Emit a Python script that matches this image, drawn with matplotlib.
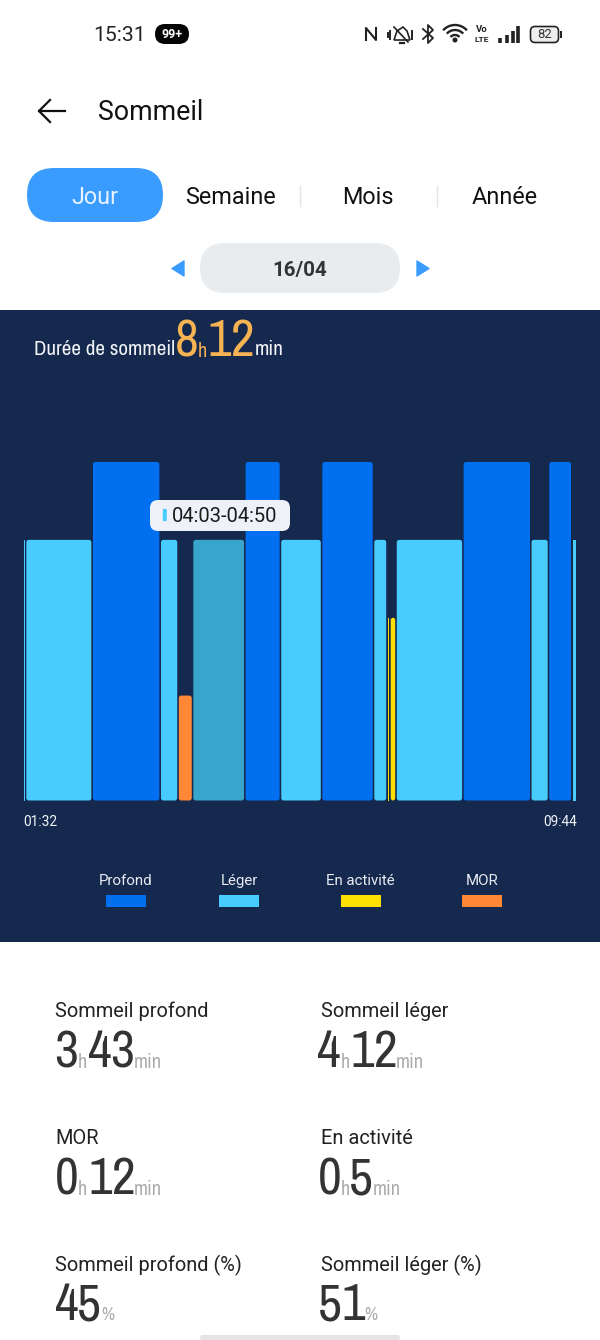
import matplotlib
matplotlib.use("Agg")
import matplotlib.pyplot as plt
from matplotlib.patches import FancyBboxPatch, Rectangle, Polygon, Circle, Arc
from matplotlib import font_manager as fm

W, H = 600, 1340

# ---- data -------------------------------------------------------------
START_LABEL = "01:32"
END_LABEL = "09:44"
TOTAL_MIN = 492
seg_start = [0, 1.8, 61.1, 121.6, 137.5, 150.4, 196.9, 228.6, 265.2, 311.4, 323.4, 326, 331.4, 390.9, 451.3, 467.1, 487.8]
seg_end = [1.8, 61.1, 121.6, 137.5, 150.4, 196.9, 228.6, 265.2, 311.4, 323.4, 326, 331.4, 390.9, 451.3, 467.1, 487.8, 492]
seg_stage = ["Léger", "Léger", "Profond", "Léger", "MOR", "Léger", "Profond", "Léger", "Profond",
             "Léger", "En activité", "En activité", "Léger", "Profond", "Léger", "Profond", "Léger"]
stage_names = ["Profond", "Léger", "En activité", "MOR"]
stage_height = [100, 77, 54, 31]
stage_color = ["#006FF0", "#48CBFF", "#FFE000", "#FF8735"]
selected_segment = 5
selected_color = "#37A5CC"
tabs = ["Jour", "Semaine", "Mois", "Année"]
stat_labels = ["Sommeil profond", "Sommeil léger", "MOR", "En activité", "Sommeil profond (%)", "Sommeil léger (%)"]
stat_a = ["3", "4", "0", "0", "45", "51"]
stat_a_unit = ["h", "h", "h", "h", "%", "%"]
stat_b = ["43", "12", "12", "5", "", ""]
stat_b_unit = ["min", "min", "min", "min", "", ""]

SANS = ["Roboto", "DejaVu Sans"]
cond = sorted({f.name for f in fm.fontManager.ttflist
               if "condensed" in f.name.lower() or "narrow" in f.name.lower()})
HAS_COND = bool(cond)
NARROW = cond[:1] + SANS if HAS_COND else SANS
PX = 72 / 100

fig = plt.figure(figsize=(W / 100, H / 100), dpi=100, facecolor="white")
ui = fig.add_axes([0, 0, 1, 1])
ui.set_xlim(0, W); ui.set_ylim(H, 0); ui.axis("off")


def t(x, y, s, size, color="#111111", ha="left", va="center", family=SANS, ax=ui, **kw):
    dy = 1.6 if size >= 18 else 1.0
    return ax.text(x, y + dy, s, fontsize=size * PX, color=color, ha=ha, va=va, family=family, **kw)


def digits(centers, y, s, size, color, **kw):
    # the tall narrow numerals are placed one by one to keep the reference's tight spacing
    for cx, ch in zip(centers, s):
        t(cx, y, ch, size, color=color, ha="center", **kw)


def rbox(x0, y0, x1, y1, r, color, z=1):
    ui.add_patch(FancyBboxPatch((x0 + r, y0 + r), x1 - x0 - 2 * r, y1 - y0 - 2 * r,
                                boxstyle=f"round,pad={r},rounding_size={r}", fc=color, ec="none", zorder=z))


# ---- status bar ---------------------------------------------------------
INK = "#222222"
t(93, 33.7, "15:31", 21, color=INK)
rbox(155, 24, 189, 44, 10, "#050505")
t(172, 33.5, "99+", 12.5, color="white", ha="center", fontweight="bold")
ui.plot([366, 366, 376, 376], [40, 28, 40, 28], color=INK, lw=1.5)
ui.add_patch(Polygon([[394, 40], [397, 31], [403, 27], [407, 31], [410, 40]], closed=True, fc="none", ec=INK, lw=1.2))
ui.plot([394, 408], [27, 42], color=INK, lw=1.2)
ui.plot([400, 404], [42.5, 42.5], color=INK, lw=1.6)
for x, h0 in ((387.5, 2), (390, 4), (412, 4)):
    ui.plot([x, x], [34.5 - h0, 34.5 + h0], color=INK, lw=1.4)
ui.plot([423, 433, 428, 428, 433, 423], [29, 38, 43, 25, 30, 39], color=INK, lw=1.3)
for r in (6, 11, 16):
    ui.add_patch(Arc((455, 41), 2 * r, 2 * r, theta1=222, theta2=318, color=INK, lw=1.7))
ui.add_patch(Circle((455, 40), 1.8, color=INK))
t(482, 28.5, "Vo", 9.5, ha="center", fontweight="bold", color=INK)
t(482, 38, "LTE", 8.5, ha="center", fontweight="bold", color=INK)
for x, top in zip([500, 506.5, 512.5, 518], [38, 35, 31, 26]):
    ui.plot([x, x], [top, 43], color=INK, lw=2.6, solid_capstyle="butt")
rbox(531, 27, 558, 42, 4, "#EEEEEE")
ui.add_patch(FancyBboxPatch((535, 31), 19, 7, boxstyle="round,pad=4.5,rounding_size=4.5", fc="none", ec=INK, lw=1.2))
ui.add_patch(Rectangle((560, 31), 2, 7, fc=INK, ec="none"))
t(544.5, 33.5, "82", 13, ha="center", color="#333333")

# ---- header -------------------------------------------------------------
ui.plot([65, 39], [111, 111], color="#111111", lw=1.6)
ui.plot([50, 39, 50], [100, 111, 122], color="#111111", lw=1.6)
t(98, 111, "Sommeil", 26.7, color="#111111")

# ---- tabs ---------------------------------------------------------------
rbox(27, 168, 163, 222, 27, "#3B9CFF")
for x, s, c in zip([95, 231, 368, 505], tabs, ["#E6F2FF", "#111111", "#111111", "#111111"]):
    t(x, 195.5, s, 23.4, color=c, ha="center")
for x in (300, 437):
    ui.plot([x, x], [186, 206], color="#E4E4E4", lw=1)

rbox(200, 243, 400, 293, 25, "#E9ECEF")
t(300, 268.8, "16/04", 20.5, color="#333333", ha="center", fontweight="bold")
ui.add_patch(Polygon([[184, 261], [184, 276], [172, 268.5]], closed=True, fc="#3B9CFF", ec="#3B9CFF", lw=1, joinstyle="round"))
ui.add_patch(Polygon([[417, 261], [417, 276], [429, 268.5]], closed=True, fc="#3B9CFF", ec="#3B9CFF", lw=1, joinstyle="round"))

# ---- dark panel ---------------------------------------------------------
ui.add_patch(Rectangle((0, 310), W, 632, fc="#15284E", ec="none", zorder=0))
LABEL = 21 if HAS_COND else 17.4
t(34, 348, "Durée de sommeil", LABEL, color="#F2F4F8", family=NARROW)
ORANGE = "#F5B354"
digits([187], 340, "8", 52, ORANGE, family=NARROW, fontweight="light")
t(198, 350, "h", 20, color=ORANGE, family=NARROW)
digits([219, 243], 340, "12", 52, ORANGE, family=NARROW, fontweight="light")
t(255, 348, "min", LABEL, color="#F2F4F8", family=NARROW)

# ---- chart --------------------------------------------------------------
x0, x1, ybot, ytop = 23.5, 576.5, 800.5, 462
ax = fig.add_axes([x0 / W, 1 - ybot / H, (x1 - x0) / W, (ybot - ytop) / H])
ax.set_xlim(0, TOTAL_MIN); ax.set_ylim(0, 100); ax.axis("off"); ax.patch.set_alpha(0)
gap = 0.7
for i, (a, b, s) in enumerate(zip(seg_start, seg_end, seg_stage)):
    k = stage_names.index(s)
    c = selected_color if i == selected_segment else stage_color[k]
    w = max(b - a - 2 * gap, 0.7)
    if w > 3.5:
        p = FancyBboxPatch((a + gap, 0), w, stage_height[k], boxstyle="round,pad=0,rounding_size=2.2",
                           mutation_aspect=(100 / (ybot - ytop)) / (TOTAL_MIN / (x1 - x0)),
                           fc=c, ec="none")
        ax.add_patch(p)
    else:
        ax.bar(a + gap + w / 2, stage_height[k], width=w, color=c, linewidth=0)

t(40, 821.5, START_LABEL, 13.8, color="#F2F4F8", ha="center")
t(560, 821.5, END_LABEL, 13.8, color="#F2F4F8", ha="center")

# tooltip above the bars
tip = fig.add_axes([0, 0, 1, 1]); tip.set_xlim(0, W); tip.set_ylim(H, 0); tip.axis("off"); tip.patch.set_alpha(0)
tip.add_patch(FancyBboxPatch((158, 508), 124, 15, boxstyle="round,pad=8,rounding_size=8", fc="#EEF1F8", ec="none"))
tip.add_patch(FancyBboxPatch((164, 510), 1.6, 10, boxstyle="round,pad=1.2,rounding_size=1.5", fc="#48CBFF", ec="none"))
t(172, 515, "04:03-04:50", 20.2, color="#1A1A1A", ax=tip)

# legend
for x, name, c in zip([125.5, 239, 360.5, 482], stage_names, stage_color):
    t(x, 880, name, 15, color="#E8EBF2", ha="center")
    ui.add_patch(Rectangle((x - 20, 895), 40, 12, fc=c, ec="none", zorder=2))

# ---- statistics ---------------------------------------------------------
col_x = [55, 321]
row_label = [1010, 1137, 1264]
row_num = [1051, 1178, 1304]
GREY = "#ABABAB"
DARK = "#333333"
a_centers = [[66.5], [329], [66.5], [329.5], [67, 88.5], [330, 353]]
a_unit_x = [78, 341, 78, 341, 101, 364]
b_centers = [[100, 122.5], [362, 385.5], [100.5, 124], [361], [], []]
b_unit_x = [134, 396, 134, 373, 0, 0]
NUM = 52 if HAS_COND else 49
for i in range(6):
    row, col = i // 2, i % 2
    t(col_x[col], row_label[row], stat_labels[i], 20, color="#222222")
    ny = row_num[row]
    digits(a_centers[i], ny, stat_a[i], NUM, DARK, family=NARROW)
    t(a_unit_x[i], ny + 9.5, stat_a_unit[i], 20 if stat_a_unit[i] == "h" else 18, color=GREY, family=NARROW)
    if stat_b[i]:
        digits(b_centers[i], ny, stat_b[i], NUM, DARK, family=NARROW)
        t(b_unit_x[i], ny + 9.5, stat_b_unit[i], 20.5, color=GREY, family=NARROW)

rbox(200, 1335, 400, 1340, 2.4, "#E4E4E4")
fig.savefig("out.png", dpi=100, facecolor="white")
